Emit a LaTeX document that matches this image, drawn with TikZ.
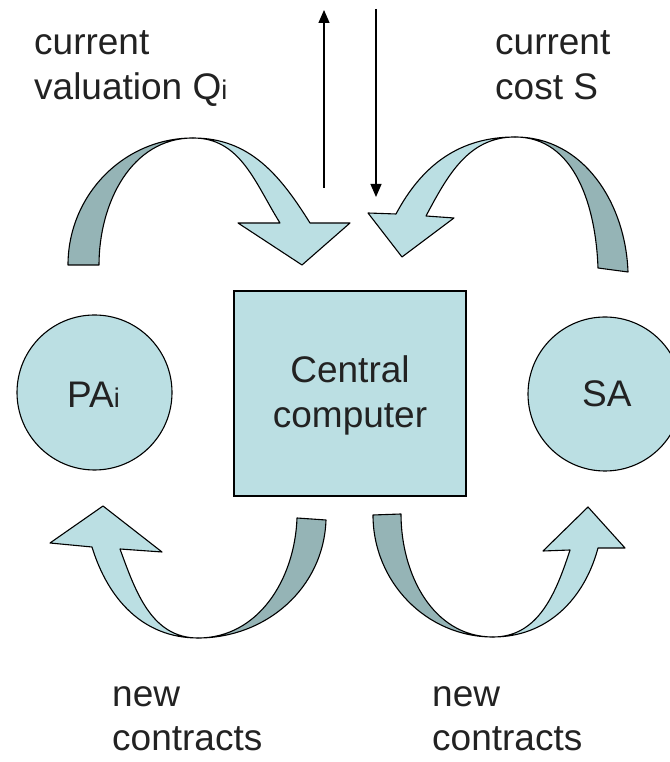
\documentclass[tikz,border=0pt]{standalone}
\usepackage{fontspec}
\setmainfont{Liberation Sans}
\usetikzlibrary{arrows.meta}
\definecolor{lightfill}{HTML}{BBDFE3}
\definecolor{darkfill}{HTML}{95B4B6}
\definecolor{txt}{HTML}{222222}
\tikzset{
  lbl/.style={anchor=base west, inner sep=0pt, text=txt, font=\fontsize{37}{44}\selectfont},
  clbl/.style={anchor=base, inner sep=0pt, text=txt, font=\fontsize{37}{44}\selectfont},
  agent/.style={circle, draw=black, line width=1.1pt, fill=lightfill, minimum size=#1, inner sep=0pt},
  front/.style={fill=lightfill, draw=black, line width=1.1pt, line join=round},
  back/.style={fill=darkfill, draw=black, line width=1.1pt, line join=round},
  thin arrow/.style={line width=1.2pt, -{Triangle[width=11pt,length=13pt]}}
}
\newcommand{\smi}{{\fontsize{27}{27}\selectfont i}}
\begin{document}
\begin{tikzpicture}[x=1pt,y=1pt]
\useasboundingbox (0,0) rectangle (669,762);

% central box and agents
\node[draw=black, line width=1.1pt, fill=lightfill, minimum width=232pt, minimum height=205pt, inner sep=0pt] (cc) at (350,368.5) {};
\node[clbl] (cc1) at (350,379) {Central};
\node[clbl] (cc2) at (350,334) {computer};
\node[agent=155pt] (pa) at (94.5,369.5) {};
\node[lbl] (patxt) at (67,354) {PA\smi};
\node[agent=154pt] (sa) at (605,368) {};
\node[lbl] (satxt) at (582,355) {SA};

% top texts
\node[lbl] (t1) at (34,707) {current};
\node[lbl] (t2) at (34,662) {valuation Q\smi};
\node[lbl] (t3) at (495,707) {current};
\node[lbl] (t4) at (495,662) {cost S};

% bottom texts
\node[lbl] (b1) at (112,55) {new};
\node[lbl] (b2) at (112,11) {contracts};
\node[lbl] (b3) at (432,55) {new};
\node[lbl] (b4) at (432,11) {contracts};

% thin vertical arrows
\coordinate (upS) at (324,574);
\coordinate (upE) at (324,752);
\coordinate (dnS) at (376,753);
\coordinate (dnE) at (376,565);
\draw[thin arrow] (upS) -- (upE);
\draw[thin arrow] (dnS) -- (dnE);

% top-left curved arrow
\draw[back] (68,497) to[out=90,in=180] (193,624) to[out=180,in=90] (99,497) -- cycle;
\draw[front] (193,624) to[out=0,in=122] (310,539) -- (350,539) -- (302,497) -- (238,539) -- (280,539) to[out=122,in=0] (193,624) -- cycle;

% top-right curved arrow
\draw[back] (628,490) to[out=92,in=0] (515,625) to[out=0,in=92] (598,494) -- cycle;
\draw[front] (515,625) to[out=180,in=62] (396,548) -- (368,549) -- (402,505) -- (454,544) -- (426,546) to[out=62,in=180] (515,625) -- cycle;

% bottom-left curved arrow
\draw[back] (326,242) to[out=-92,in=0] (198,124) to[out=0,in=-92] (297,244) -- cycle;
\draw[front] (198,124) to[out=180,in=-73] (92,215) -- (50,219) -- (103,256) -- (162,210) -- (120,213) to[out=-70,in=180] (198,124) -- cycle;

% bottom-right curved arrow
\draw[back] (373,247) to[out=-90,in=180] (493,125) to[out=180,in=-90] (401,248) -- cycle;
\draw[front] (493,125) to[out=0,in=-105] (598,214) -- (625,214) -- (588,255) -- (543,211) -- (570,212) to[out=-108,in=0] (493,125) -- cycle;
\end{tikzpicture}
\end{document}
